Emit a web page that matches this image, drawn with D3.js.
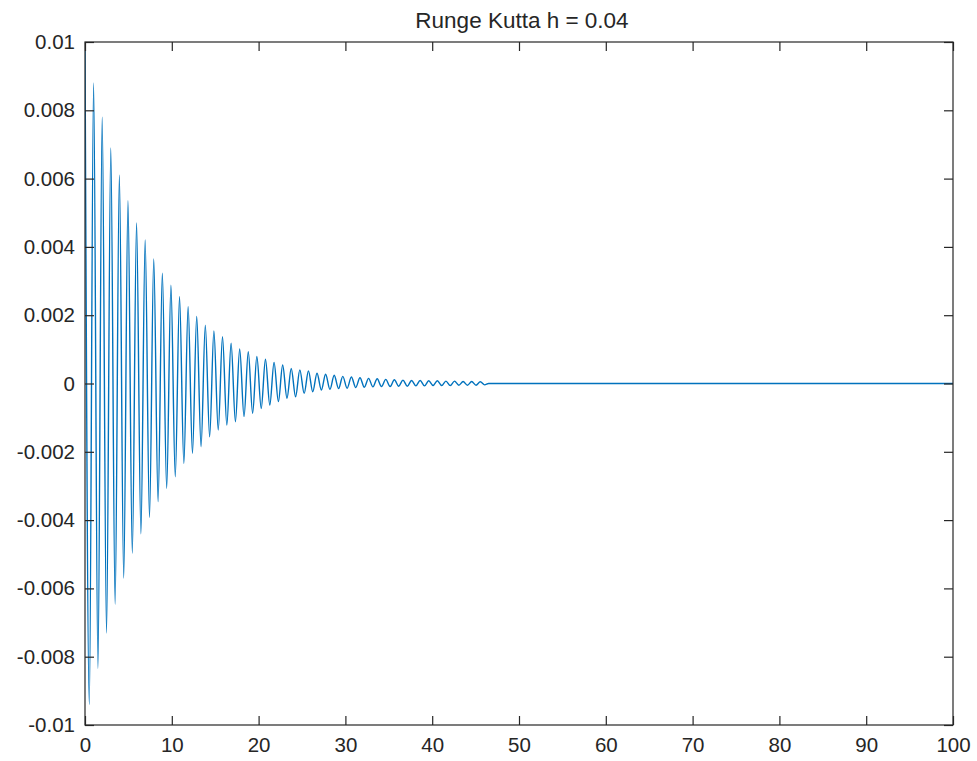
<!DOCTYPE html>
<html>
<head>
<meta charset="utf-8">
<script src="https://cdn.jsdelivr.net/npm/d3@7"></script>
<style>
  html, body { margin: 0; padding: 0; background: #fff; }
  svg { display: block; }
  text { font-family: "Liberation Sans", Arial, Helvetica, sans-serif; fill: #262626; }
</style>
</head>
<body>
<svg id="chart" width="977" height="761"></svg>
<script>
// ---- data ----
const titleText = "Runge Kutta h = 0.04";
const xTicks = [0, 10, 20, 30, 40, 50, 60, 70, 80, 90, 100];
const xTickLabels = ["0", "10", "20", "30", "40", "50", "60", "70", "80", "90", "100"];
const yTicks = [0.01, 0.008, 0.006, 0.004, 0.002, 0, -0.002, -0.004, -0.006, -0.008, -0.01];
const yTickLabels = ["0.01", "0.008", "0.006", "0.004", "0.002", "0", "-0.002", "-0.004", "-0.006", "-0.008", "-0.01"];

// successive turning points of the oscillation (time, value)
const tPoints = [
  0, 0.5, 0.99, 1.49, 1.98, 2.48, 2.97, 3.47, 3.96, 4.46,
  4.95, 5.45, 5.94, 6.44, 6.93, 7.43, 7.92, 8.42, 8.91, 9.41,
  9.90, 10.40, 10.89, 11.39, 11.88, 12.38, 12.87, 13.37, 13.86, 14.36,
  14.85, 15.35, 15.84, 16.34, 16.83, 17.33, 17.82, 18.32, 18.81, 19.31,
  19.80, 20.30, 20.79, 21.29, 21.78, 22.28, 22.77, 23.27, 23.76, 24.26,
  24.75, 25.25, 25.74, 26.24, 26.73, 27.23, 27.72, 28.22, 28.71, 29.21,
  29.70, 30.20, 30.69, 31.19, 31.68, 32.18, 32.67, 33.17, 33.66, 34.16,
  34.65, 35.15, 35.64, 36.14, 36.63, 37.13, 37.62, 38.12, 38.61, 39.11,
  39.60, 40.10, 40.59, 41.09, 41.58, 42.08, 42.57, 43.07, 43.56, 44.06,
  44.55, 45.05, 45.54, 46.04, 46.5, 100
];
const yPoints = [
  0.0100, -0.0094, 0.0088, -0.00834, 0.0078, -0.00731, 0.0069, -0.00646, 0.0061, -0.0057,
  0.00535, -0.00497, 0.0047, -0.0044, 0.0042, -0.00392, 0.00365, -0.00346, 0.00323, -0.00307,
  0.00288, -0.00273, 0.00254, -0.00234, 0.00225, -0.00204, 0.00196, -0.00185, 0.00171, -0.00156,
  0.00154, -0.00136, 0.00137, -0.00122, 0.00118, -0.00112, 0.00101, -0.00097, 0.00093, -0.00087,
  0.00079, -0.00073, 0.00071, -0.00063, 0.00062, -0.00053, 0.00054, -0.00043, 0.00044, -0.00039,
  0.00040, -0.00029, 0.00037, -0.00024, 0.00030, -0.00019, 0.00027, -0.00017, 0.00024, -0.00015,
  0.00021, -0.00014, 0.00019, -0.00012, 0.00017, -0.00011, 0.00015, -0.00010, 0.00014, -0.00009,
  0.00012, -0.00009, 0.00011, -0.00008, 0.00010, -0.00008, 0.00009, -0.00007, 0.00009, -0.00007,
  0.00008, -0.00006, 0.00008, -0.00006, 0.00007, -0.00006, 0.00007, -0.00005, 0.00006, -0.00005,
  0.00006, -0.00005, 0.00005, -0.00004, 0, 0
];

// ---- layout ----
const svg = d3.select("#chart");
const margin = { left: 85, right: 977 - 953, top: 42, bottom: 761 - 725 };
const W = 977, H = 761;
const x = d3.scaleLinear().domain([0, 100]).range([margin.left, W - margin.right]);
const y = d3.scaleLinear().domain([-0.01, 0.01]).range([H - margin.bottom, margin.top]);
const axisColor = "#262626";
const tickLen = 9;
const fontSize = 20.5;

// data line
const data = tPoints.map((t, i) => ({ t: t, v: yPoints[i] }));
svg.append("defs").append("clipPath").attr("id", "clip")
  .append("rect")
  .attr("x", x(0)).attr("y", y(0.01))
  .attr("width", x(100) - x(0)).attr("height", y(-0.01) - y(0.01));

const line = d3.line()
  .x(d => x(d.t))
  .y(d => y(d.v))
  .curve(d3.curveMonotoneX);

svg.append("path")
  .datum(data)
  .attr("clip-path", "url(#clip)")
  .attr("fill", "none")
  .attr("stroke", "#0072BD")
  .attr("stroke-width", 1.4)
  .attr("d", line);

// axes
function styleAxis(g) {
  g.select(".domain").remove();
  g.selectAll(".tick line").attr("stroke", axisColor).attr("stroke-width", 1.2);
  g.selectAll(".tick text").attr("fill", axisColor).style("font-size", fontSize + "px");
}

svg.append("g")
  .attr("transform", `translate(0,${y(-0.01)})`)
  .call(d3.axisBottom(x).tickValues(xTicks).tickFormat((d, i) => xTickLabels[i])
    .tickSizeInner(-tickLen).tickSizeOuter(0).tickPadding(12))
  .call(styleAxis);

svg.append("g")
  .attr("transform", `translate(0,${y(0.01)})`)
  .call(d3.axisTop(x).tickValues(xTicks).tickFormat("")
    .tickSizeInner(-tickLen).tickSizeOuter(0))
  .call(styleAxis);

svg.append("g")
  .attr("transform", `translate(${x(0)},0)`)
  .call(d3.axisLeft(y).tickValues(yTicks).tickFormat((d, i) => yTickLabels[i])
    .tickSizeInner(-tickLen).tickSizeOuter(0).tickPadding(10))
  .call(styleAxis);

svg.append("g")
  .attr("transform", `translate(${x(100)},0)`)
  .call(d3.axisRight(y).tickValues(yTicks).tickFormat("")
    .tickSizeInner(-tickLen).tickSizeOuter(0))
  .call(styleAxis);

// box
svg.append("rect")
  .attr("x", x(0)).attr("y", y(0.01))
  .attr("width", x(100) - x(0)).attr("height", y(-0.01) - y(0.01))
  .attr("fill", "none")
  .attr("stroke", axisColor)
  .attr("stroke-width", 1.2);

// title
svg.append("text")
  .attr("x", (x(0) + x(100)) / 2 + 3)
  .attr("y", y(0.01) - 14)
  .attr("text-anchor", "middle")
  .style("font-size", "22.5px")
  .text(titleText);
</script>
</body>
</html>
